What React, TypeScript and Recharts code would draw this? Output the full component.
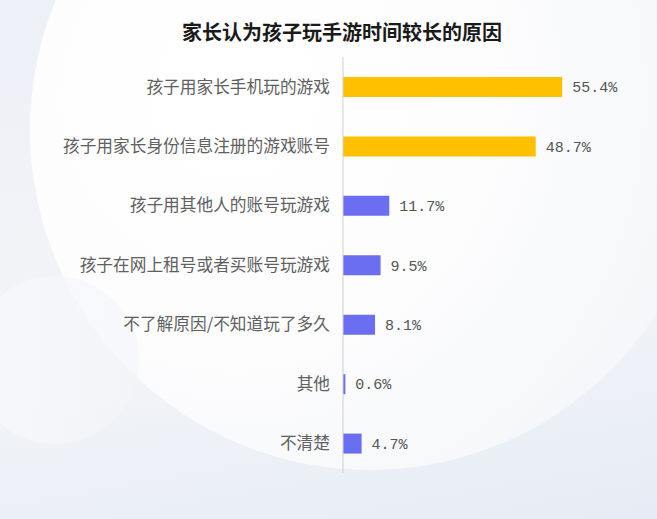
import React from 'react';
import { BarChart, Bar, XAxis, YAxis, Cell, LabelList } from 'recharts';

const categories = [
    '孩子用家长手机玩的游戏',
    '孩子用家长身份信息注册的游戏账号',
    '孩子用其他人的账号玩游戏',
    '孩子在网上租号或者买账号玩游戏',
    '不了解原因/不知道玩了多久',
    '其他',
    '不清楚',
];
const shares = [55.4, 48.7, 11.7, 9.5, 8.1, 0.6, 4.7];
const highlighted = [true, true, false, false, false, false, false];

const title = '家长认为孩子玩手游时间较长的原因';

const CJK = '"Noto Sans CJK SC", "Noto Sans", sans-serif';

const App: React.FC = () => {
    const data = categories.map((name, i) => ({ name, value: shares[i] }));

    return (
        <div
            style={{
                position: 'absolute',
                left: 0,
                top: 0,
                width: 657,
                height: 519,
                overflow: 'hidden',
                background: 'linear-gradient(170deg, #edf0f7 0%, #f2f3f7 40%, #f1f3f7 65%, #e6ebf5 100%)',
            }}
        >
            {/* background decoration */}
            <div
                style={{
                    position: 'absolute',
                    left: 30,
                    top: -210,
                    width: 680,
                    height: 680,
                    borderRadius: '50%',
                    background: 'radial-gradient(circle at 30% 45%, #ffffff 0%, #fdfdfe 40%, #f7f8fa 70%, rgba(243,244,248,0.2) 100%)',
                }}
            />
            <div
                style={{
                    position: 'absolute',
                    left: -29,
                    top: 276,
                    width: 168,
                    height: 168,
                    borderRadius: '50%',
                    background: 'linear-gradient(90deg, rgba(247,248,251,0.85), rgba(243,245,249,0.6))',
                }}
            />
            <div
                style={{
                    position: 'absolute',
                    left: 0,
                    width: 684,
                    top: 19,
                    textAlign: 'center',
                    fontFamily: CJK,
                    fontWeight: 700,
                    fontSize: 20,
                    color: '#1a1a1a',
                    lineHeight: '26px',
                }}
            >
                {title}
            </div>
            <div style={{ position: 'absolute', left: 0, top: 0 }}>
                <BarChart
                    width={657}
                    height={519}
                    data={data}
                    layout="vertical"
                    margin={{ top: 57, right: 37, left: 0, bottom: 46 }}
                >
                    <XAxis type="number" domain={[0, 70]} hide />
                    <YAxis
                        type="category"
                        dataKey="name"
                        width={343}
                        tickLine={false}
                        tickMargin={7}
                        axisLine={{ stroke: '#cfcfd4' }}
                        tick={{ fill: '#606060', fontSize: 16.7, fontFamily: CJK }}
                        interval={0}
                    />
                    <Bar dataKey="value" barSize={20} isAnimationActive={false}>
                        {data.map((d, i) => (
                            <Cell key={d.name} fill={highlighted[i] ? '#ffc000' : '#6b6ef0'} />
                        ))}
                        <LabelList
                            dataKey="value"
                            position="right"
                            offset={10}
                            formatter={(v: any) => `${v}%`}
                            style={{ fill: '#555555', fontSize: 15, fontFamily: '"Liberation Mono", "DejaVu Sans Mono", monospace' }}
                        />
                    </Bar>
                </BarChart>
            </div>
        </div>
    );
};

export default App;
